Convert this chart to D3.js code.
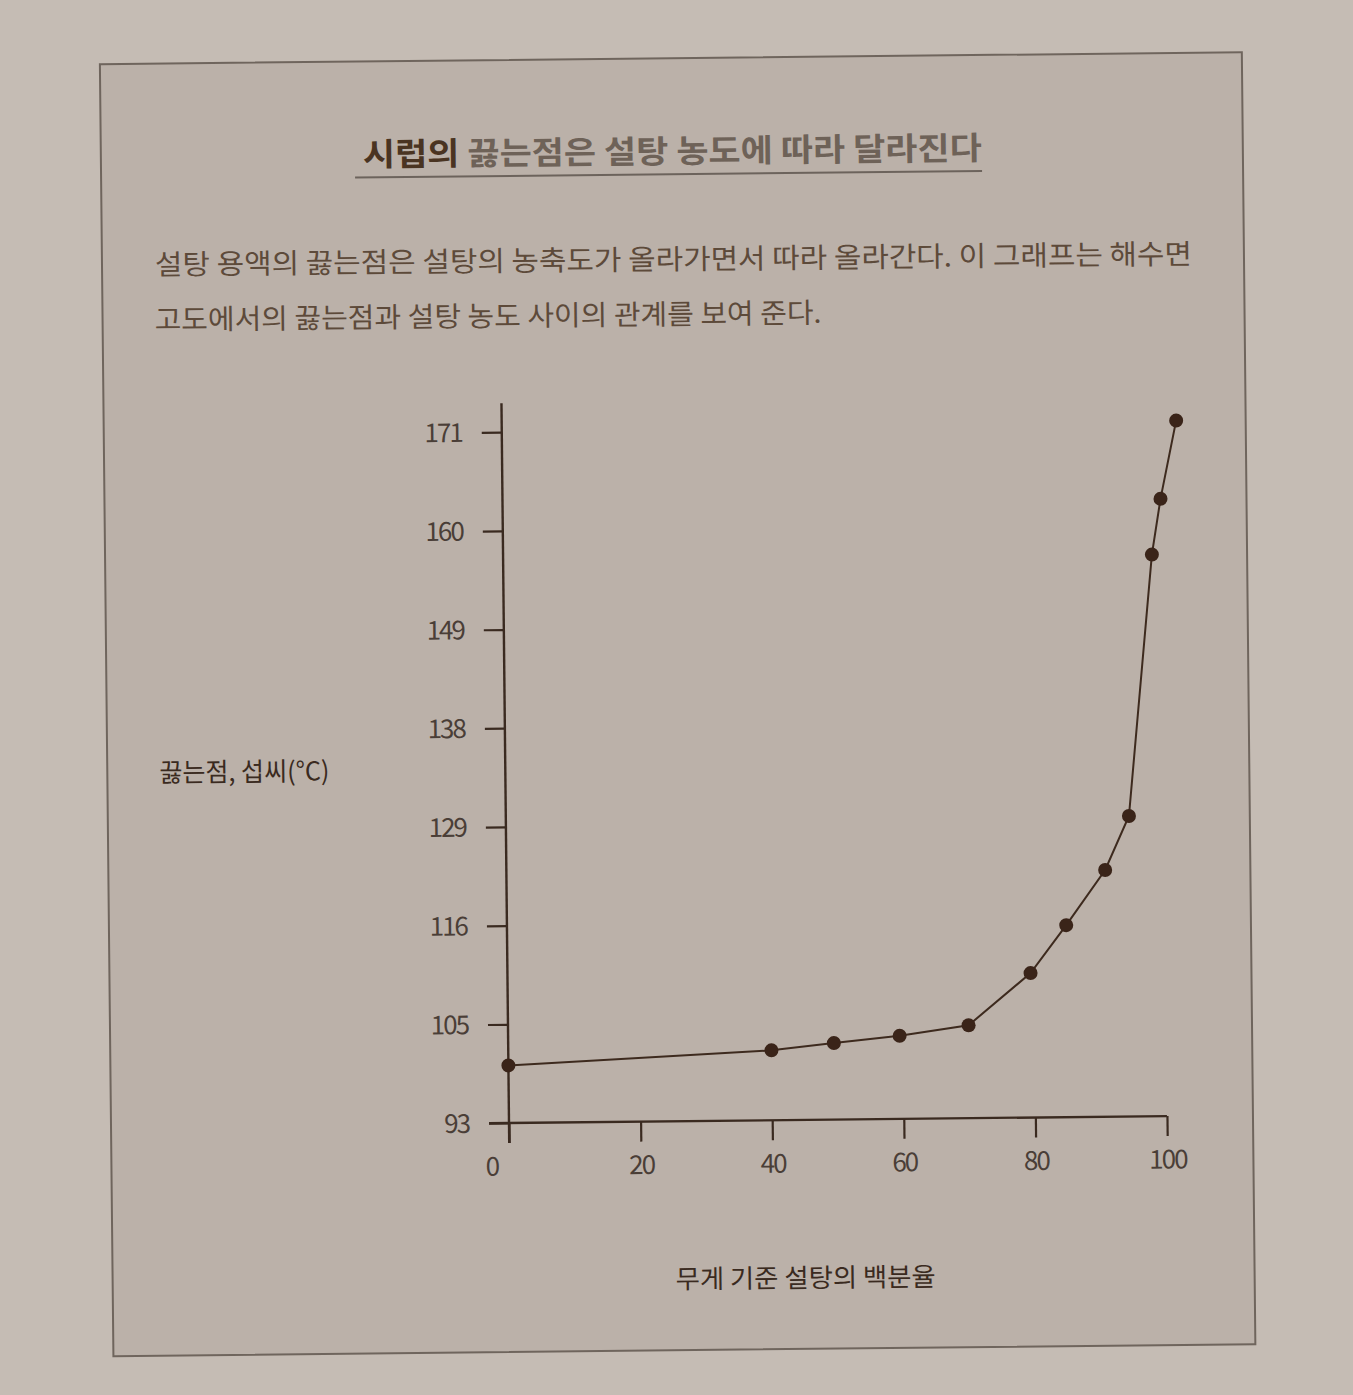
<!DOCTYPE html>
<html>
<head>
<meta charset="utf-8">
<script src="https://cdn.jsdelivr.net/npm/d3@7"></script>
<style>
  html, body { margin: 0; padding: 0; background: #c4bbb3; }
  svg { display: block; }
</style>
</head>
<body>
<div id="chart"></div>
<script>
// ---- data ----
const sugarPercent = [0, 40, 49.5, 59.5, 70, 79.5, 85, 91, 94.7, 98.6, 100, 102.5];
const boilingC     = [100, 101.5, 102.3, 103.1, 104.3, 110.1, 115.4, 122.5, 129.4, 156.6, 162.8, 171.5];
const xTicks = [0, 20, 40, 60, 80, 100];
const yTicks = [93, 105, 116, 129, 138, 149, 160, 171];

const titleDark = "시럽의";
const titleRest = "끓는점은 설탕 농도에 따라 달라진다";
const para1 = "설탕 용액의 끓는점은 설탕의 농축도가 올라가면서 따라 올라간다. 이 그래프는 해수면";
const para2 = "고도에서의 끓는점과 설탕 농도 사이의 관계를 보여 준다.";
const yLabel = "끓는점, 섭씨(°C)";
const xLabel = "무게 기준 설탕의 백분율";

const W = 1353, H = 1395;
const KR = "'Noto Sans CJK KR', 'Noto Sans', sans-serif";
const ink = "#3a2a20";

const svg = d3.select("#chart").append("svg")
  .attr("width", W).attr("height", H);

svg.append("rect").attr("width", W).attr("height", H).attr("fill", "#c5bcb4");

// whole page slightly rotated as in the photo
const g = svg.append("g").attr("transform", "rotate(-0.6, 509, 1123)");

// framed box
g.append("rect")
  .attr("x", 111).attr("y", 60).attr("width", 1142).attr("height", 1292)
  .attr("fill", "#bbb1a9").attr("stroke", "#6f655d").attr("stroke-width", 2);

// title
const title = g.append("text")
  .attr("x", 373).attr("y", 153).attr("dy", "0.36em")
  .attr("font-family", KR).attr("font-size", 32).attr("font-weight", 700)
  .attr("textLength", 619).attr("lengthAdjust", "spacingAndGlyphs");
title.append("tspan").attr("fill", "#4a3422").text(titleDark + " ");
title.append("tspan").attr("fill", "#6e6258").text(titleRest);

g.append("line")
  .attr("x1", 365).attr("x2", 992).attr("y1", 176).attr("y2", 176)
  .attr("stroke", "#6c635c").attr("stroke-width", 2);

// paragraph
g.append("text")
  .attr("x", 164).attr("y", 261).attr("dy", "0.36em")
  .attr("font-family", KR).attr("font-size", 28).attr("fill", "#5d4a3a")
  .attr("textLength", 1037).attr("lengthAdjust", "spacingAndGlyphs")
  .text(para1);
g.append("text")
  .attr("x", 163).attr("y", 316).attr("dy", "0.36em")
  .attr("font-family", KR).attr("font-size", 28).attr("fill", "#5d4a3a")
  .attr("textLength", 667).attr("lengthAdjust", "spacingAndGlyphs")
  .text(para2);

// scales
const x = d3.scaleLinear().domain([0, 100]).range([509, 1167]);
const yStep = 98.7;
const y = d3.scaleLinear()
  .domain(yTicks)
  .range(yTicks.map((d, i) => 1123 - i * yStep));

// axes
const yAxis = d3.axisLeft(y).tickValues(yTicks).tickSize(20).tickSizeOuter(0).tickPadding(20);
const xAxis = d3.axisBottom(x).tickValues(xTicks).tickSize(20).tickSizeOuter(0).tickPadding(14);

const gy = g.append("g").attr("transform", "translate(509,0)").call(yAxis);
const gx = g.append("g").attr("transform", "translate(0,1123)").call(xAxis);

[gy, gx].forEach(a => {
  a.select(".domain").remove();
  a.selectAll(".tick line").attr("stroke", ink).attr("stroke-width", 2.2);
  a.selectAll(".tick text")
    .attr("font-family", KR).attr("font-size", 26).attr("fill", "#4a3e37")
    .attr("letter-spacing", -2);
});
gy.selectAll(".tick text").attr("dy", "0.34em");
gx.selectAll(".tick text").filter(d => d === 0).attr("dx", -18);

// axis lines (extend past the outer ticks as in the picture)
g.append("line")
  .attr("x1", 509).attr("x2", 509)
  .attr("y1", y(171) - 29).attr("y2", y(93) + 20)
  .attr("stroke", ink).attr("stroke-width", 2.4);
g.append("line")
  .attr("x1", x(0) - 20).attr("x2", x(100))
  .attr("y1", y(93)).attr("y2", y(93))
  .attr("stroke", ink).attr("stroke-width", 2.4);

// data line + points
const pts = sugarPercent.map((v, i) => [v, boilingC[i]]);
g.append("path")
  .datum(pts)
  .attr("fill", "none").attr("stroke", "#3d2a1e").attr("stroke-width", 2)
  .attr("d", d3.line().x(d => x(d[0])).y(d => y(d[1])));

g.selectAll("circle.pt").data(pts).enter().append("circle")
  .attr("class", "pt")
  .attr("cx", d => x(d[0])).attr("cy", d => y(d[1]))
  .attr("r", 7).attr("fill", "#3a2419");

// axis titles
g.append("text")
  .attr("x", 163).attr("y", 769).attr("dy", "0.36em")
  .attr("font-family", KR).attr("font-size", 26).attr("fill", ink)
  .attr("textLength", 170).attr("lengthAdjust", "spacingAndGlyphs")
  .text(yLabel);
g.append("text")
  .attr("x", 674).attr("y", 1281).attr("dy", "0.36em")
  .attr("font-family", KR).attr("font-size", 26).attr("fill", ink)
  .attr("textLength", 260).attr("lengthAdjust", "spacingAndGlyphs")
  .text(xLabel);
</script>
</body>
</html>
